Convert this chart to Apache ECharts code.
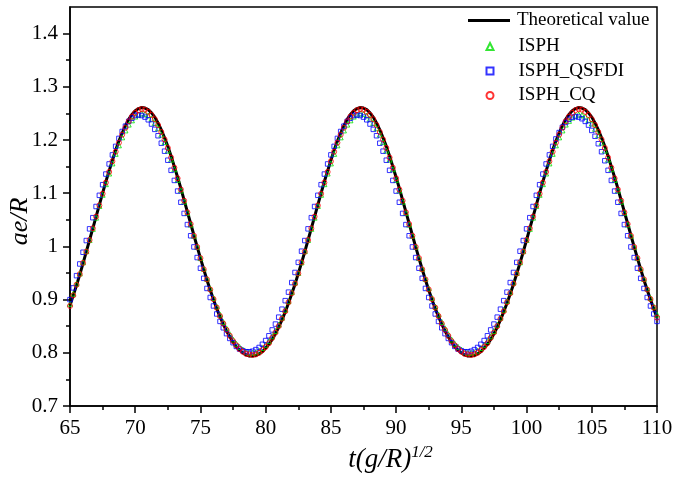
<!DOCTYPE html>
<html>
<head>
<meta charset="utf-8">
<script src="https://cdn.jsdelivr.net/npm/echarts@6/dist/echarts.min.js"></script>
<style>html,body{margin:0;padding:0;background:#fff;}#c{width:683px;height:477px;}</style>
</head>
<body>
<div id="c"></div>
<script>
const seriesNames = ['Theoretical value', 'ISPH', 'ISPH_QSFDI', 'ISPH_CQ'];
const yTickValues = [0.7, 0.8, 0.9, 1.0, 1.1, 1.2, 1.3, 1.4];
const yTickLabels = ['0.7', '0.8', '0.9', '1', '1.1', '1.2', '1.3', '1.4'];
const yMinorValues = [0.75, 0.85, 0.95, 1.05, 1.15, 1.25, 1.35];
const xTickLabels = ['65', '70', '75', '80', '85', '90', '95', '100', '105', '110'];

const time = [
65,65.25,65.5,65.75,66,66.25,66.5,66.75,67,67.25,67.5,67.75,68,68.25,68.5,68.75,69,69.25,69.5,69.75,
70,70.25,70.5,70.75,71,71.25,71.5,71.75,72,72.25,72.5,72.75,73,73.25,73.5,73.75,74,74.25,74.5,74.75,
75,75.25,75.5,75.75,76,76.25,76.5,76.75,77,77.25,77.5,77.75,78,78.25,78.5,78.75,79,79.25,79.5,79.75,
80,80.25,80.5,80.75,81,81.25,81.5,81.75,82,82.25,82.5,82.75,83,83.25,83.5,83.75,84,84.25,84.5,84.75,
85,85.25,85.5,85.75,86,86.25,86.5,86.75,87,87.25,87.5,87.75,88,88.25,88.5,88.75,89,89.25,89.5,89.75,
90,90.25,90.5,90.75,91,91.25,91.5,91.75,92,92.25,92.5,92.75,93,93.25,93.5,93.75,94,94.25,94.5,94.75,
95,95.25,95.5,95.75,96,96.25,96.5,96.75,97,97.25,97.5,97.75,98,98.25,98.5,98.75,99,99.25,99.5,99.75,
100,100.25,100.5,100.75,101,101.25,101.5,101.75,102,102.25,102.5,102.75,103,103.25,103.5,103.75,104,104.25,104.5,104.75,
105,105.25,105.5,105.75,106,106.25,106.5,106.75,107,107.25,107.5,107.75,108,108.25,108.5,108.75,109,109.25,109.5,109.75,
110];

const theory = [
0.889,0.908,0.927,0.947,0.968,0.990,1.012,1.034,1.056,1.078,
1.100,1.122,1.142,1.162,1.181,1.198,1.213,1.227,1.239,1.248,
1.255,1.259,1.261,1.260,1.257,1.251,1.243,1.232,1.219,1.204,
1.188,1.170,1.150,1.130,1.109,1.087,1.065,1.043,1.021,0.999,
0.978,0.957,0.937,0.918,0.900,0.883,0.868,0.854,0.841,0.830,
0.820,0.811,0.805,0.800,0.796,0.794,0.794,0.795,0.798,0.802,
0.809,0.816,0.825,0.836,0.848,0.862,0.877,
0.893,0.911,0.929,0.949,0.969,0.990,1.012,1.034,1.056,1.078,
1.100,1.122,1.142,1.162,1.181,1.198,1.213,1.227,1.239,1.248,
1.255,1.259,1.261,1.260,1.257,1.251,1.243,1.232,1.219,1.204,
1.188,1.170,1.150,1.130,1.109,1.087,1.065,1.043,1.021,0.999,
0.978,0.957,0.937,0.918,0.900,0.883,0.868,0.854,0.841,0.830,
0.820,0.811,0.805,0.800,0.796,0.794,0.794,0.795,0.798,0.802,
0.809,0.816,0.825,0.836,0.848,0.862,0.877,
0.893,0.911,0.929,0.949,0.969,0.990,1.012,1.034,1.056,1.078,
1.100,1.122,1.142,1.162,1.181,1.198,1.213,1.227,1.239,1.248,
1.255,1.259,1.261,1.260,1.257,1.251,1.243,1.232,1.219,1.204,
1.188,1.170,1.150,1.130,1.109,1.087,1.065,1.043,1.021,0.999,
0.978,0.957,0.937,0.918,0.900,0.883,0.866];

const isph = [
0.892,0.911,0.930,0.949,0.970,0.991,1.012,1.033,1.054,1.076,
1.097,1.117,1.137,1.156,1.174,1.190,1.205,1.218,1.229,1.237,
1.244,1.248,1.250,1.249,1.246,1.240,1.232,1.222,1.210,1.196,
1.180,1.163,1.145,1.125,1.105,1.084,1.063,1.041,1.020,0.999,
0.978,0.958,0.939,0.921,0.903,0.887,0.872,0.858,0.846,0.835,
0.825,0.817,0.811,0.806,0.802,0.800,0.800,0.801,0.804,0.809,
0.815,0.822,0.831,0.841,0.853,0.866,0.881,
0.897,0.914,0.932,0.950,0.970,0.991,1.012,1.033,1.054,1.076,
1.097,1.117,1.137,1.156,1.174,1.190,1.205,1.218,1.229,1.237,
1.244,1.248,1.250,1.249,1.246,1.240,1.232,1.222,1.210,1.196,
1.180,1.163,1.145,1.125,1.105,1.084,1.063,1.041,1.020,0.999,
0.978,0.958,0.939,0.921,0.903,0.887,0.872,0.858,0.846,0.835,
0.825,0.817,0.811,0.806,0.802,0.800,0.800,0.801,0.804,0.809,
0.815,0.822,0.831,0.841,0.853,0.866,0.881,
0.897,0.914,0.932,0.950,0.970,0.991,1.012,1.033,1.054,1.076,
1.097,1.117,1.137,1.156,1.174,1.190,1.205,1.218,1.229,1.236,
1.242,1.246,1.248,1.247,1.244,1.238,1.231,1.221,1.209,1.195,
1.180,1.163,1.145,1.125,1.105,1.084,1.063,1.041,1.020,0.999,
0.978,0.958,0.939,0.921,0.903,0.887,0.872];

const qsfdi = [
0.900,0.922,0.945,0.967,0.989,1.011,1.033,1.054,1.075,
1.096,1.116,1.136,1.155,1.172,1.188,1.203,1.216,1.226,1.235,
1.241,1.246,1.247,1.246,1.243,1.238,1.230,1.220,1.208,1.194,
1.179,1.162,1.143,1.124,1.104,1.083,1.062,1.041,1.020,0.999,
0.979,0.959,0.940,0.921,0.904,0.888,0.873,0.859,0.847,0.836,
0.827,0.819,0.812,0.807,0.804,0.802,0.802,0.803,0.806,0.810,
0.816,0.823,0.832,0.843,0.854,0.867,0.882,0.898,
0.914,0.932,0.951,0.970,0.991,1.011,1.033,1.054,1.075,
1.096,1.116,1.136,1.155,1.172,1.188,1.203,1.216,1.226,1.235,
1.241,1.246,1.247,1.246,1.243,1.238,1.230,1.220,1.208,1.194,
1.179,1.162,1.143,1.124,1.104,1.083,1.062,1.041,1.020,0.999,
0.979,0.959,0.940,0.921,0.904,0.888,0.873,0.859,0.847,0.836,
0.827,0.819,0.812,0.807,0.804,0.802,0.802,0.803,0.806,0.810,
0.816,0.823,0.832,0.843,0.854,0.867,0.882,0.898,
0.914,0.932,0.951,0.970,0.991,1.011,1.033,1.054,1.075,
1.096,1.116,1.136,1.155,1.172,1.188,1.202,1.214,1.224,1.233,
1.239,1.243,1.244,1.243,1.240,1.235,1.228,1.218,1.207,1.193,
1.178,1.161,1.143,1.124,1.104,1.083,1.062,1.041,1.020,0.999,
0.979,0.959,0.940,0.921,0.904,0.888,0.873,0.859];

const cq = [
0.888,0.908,0.928,0.948,0.969,0.990,1.012,1.034,1.056,1.077,
1.099,1.120,1.140,1.160,1.178,1.195,1.210,1.223,1.235,1.244,
1.251,1.256,1.258,1.257,1.253,1.247,1.239,1.228,1.215,1.201,
1.185,1.167,1.148,1.128,1.107,1.086,1.064,1.042,1.020,0.999,
0.978,0.957,0.938,0.919,0.901,0.885,0.869,0.855,0.843,0.832,
0.822,0.814,0.807,0.802,0.798,0.797,0.796,0.797,0.800,0.805,
0.811,0.818,0.828,0.838,0.850,0.864,0.878,
0.895,0.912,0.930,0.949,0.970,0.990,1.012,1.034,1.056,1.077,
1.099,1.120,1.140,1.160,1.178,1.195,1.210,1.223,1.235,1.244,
1.251,1.256,1.258,1.257,1.253,1.247,1.239,1.228,1.215,1.201,
1.185,1.167,1.148,1.128,1.107,1.086,1.064,1.042,1.020,0.999,
0.978,0.957,0.938,0.919,0.901,0.885,0.869,0.855,0.843,0.832,
0.822,0.814,0.807,0.802,0.798,0.797,0.796,0.797,0.800,0.805,
0.811,0.818,0.828,0.838,0.850,0.864,0.878,
0.895,0.912,0.930,0.949,0.970,0.990,1.012,1.034,1.056,1.077,
1.099,1.120,1.140,1.160,1.178,1.195,1.210,1.223,1.235,1.244,
1.251,1.256,1.258,1.257,1.253,1.247,1.239,1.228,1.215,1.201,
1.185,1.167,1.148,1.128,1.107,1.086,1.064,1.042,1.020,0.999,
0.978,0.957,0.938,0.919,0.901,0.885,0.866];

function pairs(ys) { return time.map((t, i) => [t, ys[i]]); }

const FONT = 'Liberation Serif';
const chart = echarts.init(document.getElementById('c'), null, { renderer: 'canvas' });

chart.setOption({
  animation: false,
  backgroundColor: '#fff',
  grid: { left: 70, right: 26, top: 7, bottom: 71, containLabel: false, outerBoundsMode: 'none',
          show: true, borderColor: '#000', borderWidth: 1.5, backgroundColor: 'transparent' },
  legend: [
    {
      data: [{ name: seriesNames[0], icon: 'rect' }],
      left: 468, top: 11, padding: 0, itemWidth: 42, itemHeight: 3,
      textStyle: { fontFamily: FONT, fontSize: 19, color: '#000', padding: [0, 0, 0, 2] }
    },
    {
      data: [seriesNames[1], seriesNames[2], seriesNames[3]],
      orient: 'vertical', left: 485.5, top: 37, padding: 0, itemWidth: 7, itemHeight: 7, itemGap: 5.5,
      textStyle: { fontFamily: FONT, fontSize: 19, color: '#000', padding: [0, 0, 0, 20] }
    }
  ],
  xAxis: {
    type: 'value', min: 65, max: 110, interval: 5,
    axisLine: { lineStyle: { color: '#000', width: 1.5 } },
    axisTick: { length: 7, lineStyle: { color: '#000', width: 1.5 } },
    minorTick: { show: true, splitNumber: 2, length: 4, lineStyle: { color: '#000', width: 1.5 } },
    splitLine: { show: false },
    axisLabel: { fontFamily: FONT, fontSize: 21, color: '#000', margin: 12,
      formatter: v => xTickLabels[Math.round((v - 65) / 5)] },
    name: '{i|t(g/R)}{s|1/2}',
    nameLocation: 'middle', nameGap: 38, nameMoveOverlap: false,
    nameTextStyle: {
      padding: [0, 0, 0, 54],
      rich: {
        i: { fontFamily: FONT, fontStyle: 'italic', fontSize: 27, color: '#000', lineHeight: 31 },
        s: { fontFamily: FONT, fontStyle: 'italic', fontSize: 17, color: '#000', lineHeight: 17, verticalAlign: 'top' }
      }
    }
  },
  yAxis: [
    {
      type: 'value', min: 0.7, max: 1.45,
      axisLine: { show: true, lineStyle: { color: '#000', width: 1.5 } },
      axisTick: { show: true, length: 7, customValues: yTickValues, lineStyle: { color: '#000', width: 1.5 } },
      splitLine: { show: false },
      axisLabel: { fontFamily: FONT, fontSize: 21, color: '#000', margin: 12, customValues: yTickValues,
        formatter: v => { const i = yTickValues.findIndex(t => Math.abs(t - v) < 1e-6); return i >= 0 ? yTickLabels[i] : ''; } },
      name: 'ae/R', nameLocation: 'middle', nameGap: 37, nameMoveOverlap: false,
      nameTextStyle: { fontFamily: FONT, fontStyle: 'italic', fontSize: 26, color: '#000', padding: [0, 30, 0, 0] }
    },
    {
      type: 'value', min: 0.7, max: 1.45, position: 'left',
      axisLine: { show: false },
      axisTick: { show: true, length: 4, customValues: yMinorValues, lineStyle: { color: '#000', width: 1.5 } },
      axisLabel: { show: false },
      splitLine: { show: false }
    }
  ],
  series: [
    {
      name: seriesNames[0], type: 'line', data: pairs(theory), showSymbol: false, symbol: 'none',
      lineStyle: { color: '#000', width: 3 }, itemStyle: { color: '#000' }, z: 2
    },
    {
      name: seriesNames[1], type: 'scatter', data: pairs(isph), symbol: 'triangle', symbolSize: 5,
      itemStyle: { color: 'rgba(0,0,0,0)', borderColor: '#00e000', borderWidth: 1 }, z: 3
    },
    {
      name: seriesNames[2], type: 'scatter', data: pairs(qsfdi), symbol: 'rect', symbolSize: 4.5,
      itemStyle: { color: 'rgba(0,0,0,0)', borderColor: '#0000ff', borderWidth: 1 }, z: 4
    },
    {
      name: seriesNames[3], type: 'scatter', data: pairs(cq), symbol: 'circle', symbolSize: 5,
      itemStyle: { color: 'rgba(0,0,0,0)', borderColor: '#ff0000', borderWidth: 1 }, z: 5
    }
  ]
});
</script>
</body>
</html>
